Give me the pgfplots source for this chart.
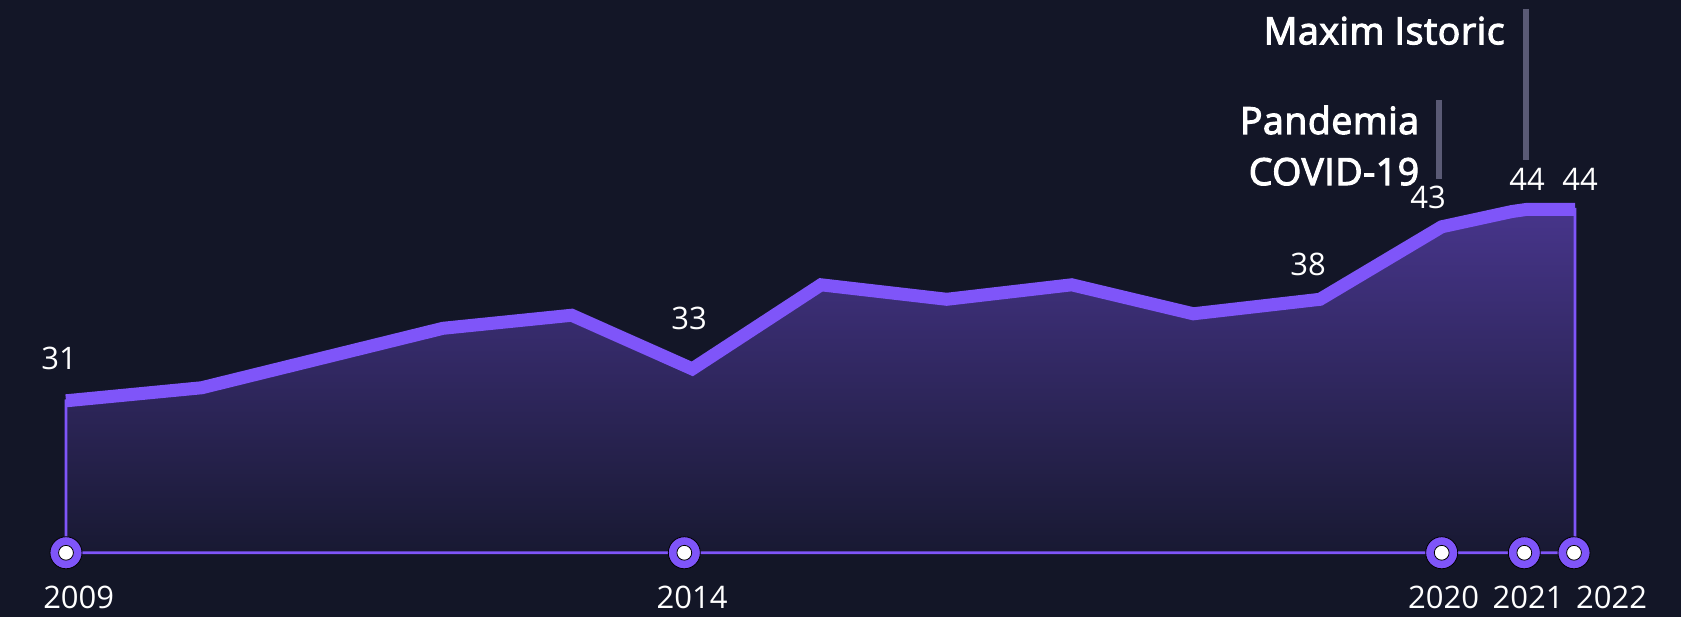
\documentclass[border=0pt]{standalone}
\usepackage{pgfplots}
\pgfplotsset{compat=1.18}
\usepackage{fontspec}
\setmainfont{Open Sans}
\newfontface\semib{Open Sans}[FakeBold=3, LetterSpace=1.5]
\definecolor{bg}{HTML}{131627}
\definecolor{lineC}{HTML}{7F55F9}
\definecolor{topC}{HTML}{47358B}
\definecolor{botC}{HTML}{181932}
\definecolor{annC}{HTML}{5A5A75}
\begin{document}
\begin{tikzpicture}
\fill[bg] (0,0) rectangle (840.5pt,308.5pt);
\begin{axis}[at={(0,0)}, anchor=south west, width=840.5pt, height=308.5pt,
  scale only axis, hide axis, xmin=0, xmax=1681, ymin=16.09, ymax=58.64, clip=false]
% area
\addplot[draw=lineC, line width=1.4pt, top color=topC, bottom color=botC, mark=none]
  coordinates {(66,20.52) (66,31.0) (201.7,31.9) (443,36.0) (571.7,36.9) (692.3,33.2)
  (821,39.0) (946.7,38.0) (1071.7,39.0) (1193.3,37.0) (1320,38.0) (1441.7,43.0)
  (1511.7,44.05) (1526.7,44.2) (1575,44.2) (1575,20.52)} -- cycle;
% thick line
\addplot[draw=lineC, line width=6.5pt, line join=miter, line cap=butt, mark=none]
  coordinates {(66,31.0) (201.7,31.9) (443,36.0) (571.7,36.9) (692.3,33.2)
  (821,39.0) (946.7,38.0) (1071.7,39.0) (1193.3,37.0) (1320,38.0) (1441.7,43.0)
  (1511.7,44.05) (1526.7,44.2) (1575,44.2)};
% markers
\addplot[only marks, mark=*, mark size=8pt, mark options={draw=none, fill=lineC}]
  coordinates {(66,20.52) (684.3,20.52) (1441.7,20.52) (1524.3,20.52) (1574,20.52)};
\addplot[only marks, mark=*, mark size=3.7pt, mark options={draw=none, fill=white}]
  coordinates {(66,20.52) (684.3,20.52) (1441.7,20.52) (1524.3,20.52) (1574,20.52)};
% value labels
\begin{scope}[every node/.style={inner sep=0pt, text=white, font=\fontsize{15.5}{18}\selectfont}]
\node[anchor=base] at (axis cs:59,33.17) {31};
\node[anchor=base] at (axis cs:689,35.95) {33};
\node[anchor=base] at (axis cs:1308,39.63) {38};
\node[anchor=base] at (axis cs:1428,44.23) {43};
\node[anchor=base] at (axis cs:1527,45.47) {44};
\node[anchor=base] at (axis cs:1580,45.47) {44};
% year labels
\node[anchor=base] at (axis cs:78.7,16.71) {2009};
\node[anchor=base] at (axis cs:692,16.71) {2014};
\node[anchor=base] at (axis cs:1443.5,16.71) {2020};
\node[anchor=base] at (axis cs:1528,16.71) {2021};
\node[anchor=base] at (axis cs:1611.5,16.71) {2022};
\end{scope}
% annotations
\draw[annC, line width=2.6pt] (axis cs:1526,58.02) -- (axis cs:1526,47.61);
\draw[annC, line width=2.6pt] (axis cs:1439,51.74) -- (axis cs:1439,46.30);
\begin{scope}[every node/.style={inner sep=0pt, text=white, font=\semib\fontsize{18.7}{22}\selectfont}]
\node[anchor=base east] at (axis cs:1505,55.59) {Maxim Istoric};
\node[anchor=base east] at (axis cs:1419.5,49.40) {Pandemia};
\node[anchor=base east] at (axis cs:1419.5,45.88) {COVID-19};
\end{scope}
\end{axis}
\end{tikzpicture}
\end{document}
